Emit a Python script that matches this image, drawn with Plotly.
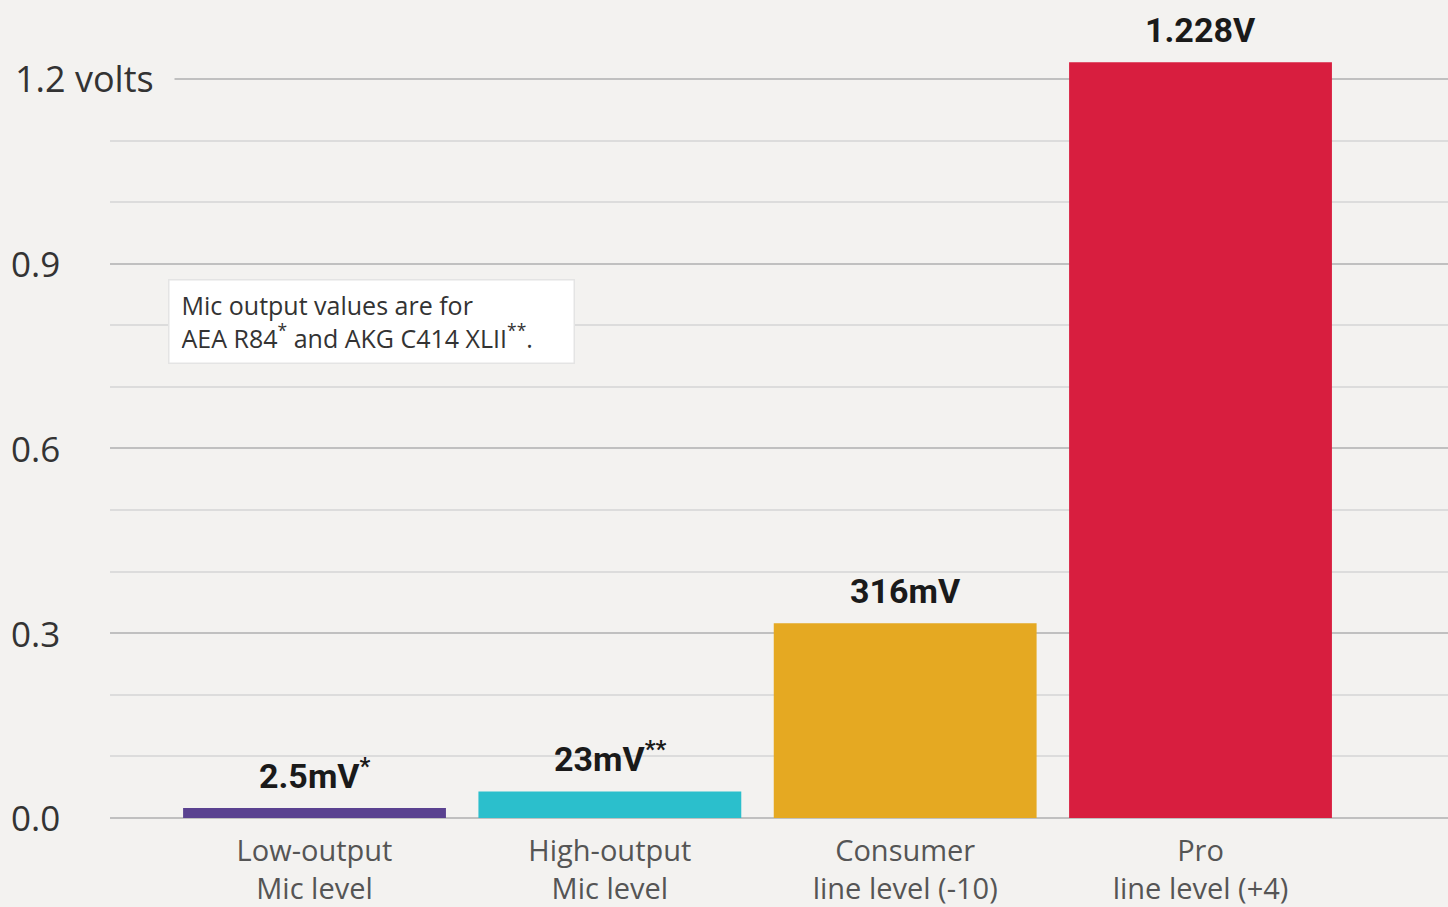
import plotly.graph_objects as go

categories = ["Low-output<br>Mic level", "High-output<br>Mic level",
              "Consumer<br>line level (-10)", "Pro<br>line level (+4)"]
bar_heights = [0.016, 0.043, 0.316, 1.227]
value_labels = ["2.5mV<sup>*</sup>", "23mV<sup>**</sup>", "316mV", "1.228V"]
bar_colors = ["#5a4290", "#2bbfcc", "#e5a922", "#d81e3f"]
tick_values = [0.0, 0.3, 0.6, 0.9, 1.2]
tick_labels = ["0.0", "0.3", "0.6", "0.9", "1.2 volts"]
note_text = "Mic output values are for<br>AEA R84<sup>*</sup> and AKG C414 XLII<sup>**</sup>."

BG = "#f3f2f0"
xs = list(range(len(categories)))

fig = go.Figure()
fig.add_trace(go.Bar(
    x=xs, y=bar_heights, marker=dict(color=bar_colors, line=dict(width=0)),
    hoverinfo="skip", showlegend=False,
))

annotations = []
for i, (h, t) in enumerate(zip(bar_heights, value_labels)):
    annotations.append(dict(
        x=i, y=h, xref="x", yref="y", text=t, showarrow=False,
        yanchor="bottom", yshift=10,
        font=dict(family="Roboto", size=34, color="#1a1a1a", weight="bold"),
    ))

for v, lab in zip(tick_values, tick_labels):
    is_top = lab.endswith("volts")
    annotations.append(dict(
        x=0, y=v, xref="paper", yref="y", text=lab, showarrow=False,
        xanchor="left", yanchor="middle", xshift=(-116 if is_top else -100),
        font=dict(family="Open Sans", size=36 if is_top else 35, color="#333333"),
        bgcolor=BG if is_top else None,
        borderpad=20 if is_top else 0,
    ))

annotations.append(dict(
    x=0.0433, y=0.875, xref="paper", yref="y", text=note_text, showarrow=False,
    xanchor="left", yanchor="top", align="left", valign="middle",
    width=380, height=58,
    font=dict(family="Open Sans", size=25, color="#333333"),
    bgcolor="#ffffff", bordercolor="#e4e4e4", borderwidth=1.5, borderpad=12,
))

fig.update_layout(
    width=1448, height=907,
    margin=dict(l=110, r=0, t=20, b=86),
    paper_bgcolor=BG, plot_bgcolor=BG,
    bargap=0.11,
    annotations=annotations,
    xaxis=dict(
        range=[-0.6925, 3.838], tickvals=xs, ticktext=categories,
        showgrid=False, zeroline=False, showline=False, ticks="",
        tickfont=dict(family="Open Sans", size=29, color="#555555"),
        ticklabelstandoff=10, automargin=False,
    ),
    yaxis=dict(
        range=[-0.005, 1.2957], tickvals=tick_values, showticklabels=False,
        showgrid=True, gridcolor="#c0c0c0", gridwidth=2,
        zeroline=False, showline=False, ticks="", automargin=False,
        minor=dict(dtick=0.1, tick0=0, showgrid=True, gridcolor="#dcdcdc", gridwidth=1.5),
    ),
)

fig.write_html("out.html", config={"displayModeBar": False},
               post_script="document.body.style.margin='0';")
